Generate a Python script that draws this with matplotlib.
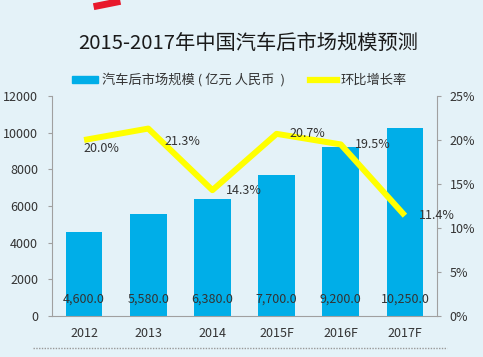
import matplotlib.pyplot as plt
from matplotlib.lines import Line2D
from matplotlib.patches import Patch

plt.rcParams['font.family'] = ['Noto Sans CJK SC', 'DejaVu Sans']

years = ["2012", "2013", "2014", "2015F", "2016F", "2017F"]
market_size = [4600.0, 5580.0, 6380.0, 7700.0, 9200.0, 10250.0]
growth = [20.0, 21.3, 14.3, 20.7, 19.5, 11.4]

bg = "#e4f2f8"
bar_color = "#00aee8"
line_color = "#ffff00"
axis_gray = "#a0a0a0"
text_color = "#333333"

# label offsets in pixels (dx, dy) from each line point
label_offsets = [(-1, -9), (16, -13), (14, 0), (13, 0), (14, 0), (14, 0)]

fig = plt.figure(figsize=(4.83, 3.57), dpi=100, facecolor=bg)
ax = fig.add_axes([52 / 483, 1 - 316 / 357, 385 / 483, 220 / 357])
ax.set_facecolor(bg)

x = list(range(len(years)))
ax.bar(x, market_size, width=0.57, color=bar_color, zorder=2)
ax.set_xlim(-0.5, len(years) - 0.5)
ax.set_ylim(0, 12000)
ax.set_yticks(range(0, 12001, 2000))
ax.set_xticks(x)
ax.set_xticklabels(years)

for xi, v in zip(x, market_size):
    ax.text(xi, 900, f"{v:,.1f}", ha="center", va="center", fontsize=9,
            color=text_color, zorder=4)

ax2 = ax.twinx()
ax2.set_ylim(0, 25)
ax2.set_yticks(range(0, 26, 5))
ax2.set_yticklabels([f"{t}%" for t in range(0, 26, 5)])
ax2.plot(x, growth, color=line_color, linewidth=4.3, solid_capstyle="butt", zorder=3)
for xi, g, (dx, dy) in zip(x, growth, label_offsets):
    ax2.annotate(f"{g:.1f}%", (xi, g), xytext=(dx, dy), textcoords="offset pixels",
                 ha="left", va="center", fontsize=9, color=text_color, zorder=4)

for a in (ax, ax2):
    for s in a.spines.values():
        s.set_visible(False)
    a.tick_params(colors=text_color, labelsize=9, length=3)
ax.spines["left"].set_visible(True)
ax.spines["left"].set_color(axis_gray)
ax.spines["bottom"].set_visible(True)
ax.spines["bottom"].set_color(axis_gray)
ax2.spines["right"].set_visible(True)
ax2.spines["right"].set_color(axis_gray)
ax.tick_params(axis="y", color=axis_gray, pad=7)
ax.tick_params(axis="x", length=0, pad=8)
ax2.tick_params(axis="y", color=axis_gray, pad=6)

fig.text(248 / 483, 1 - 43 / 357, "2015-2017年中国汽车后市场规模预测",
         ha="center", va="center", fontsize=14.6, color="#1a1a1a")

handles = [Patch(color=bar_color), Line2D([], [], color=line_color, linewidth=4.5)]
fig.legend(handles, ["汽车后市场规模 ( 亿元 人民币  )", "环比增长率"],
           loc="center left", bbox_to_anchor=(72 / 483, 1 - 80 / 357), ncol=2,
           frameon=False, fontsize=9.5, handlelength=2.0, handleheight=0.45,
           columnspacing=1.9, handletextpad=0.3, borderpad=0, borderaxespad=0,
           labelcolor=text_color)

# dotted rule along the bottom and the red mark at the top edge
fig.add_artist(Line2D([33 / 483, 447 / 483], [1 - 348 / 357] * 2, color="#999999",
                      linestyle=(0, (1, 1)), linewidth=1))
fig.add_artist(Line2D([97 / 483, 117 / 483], [1 - 6 / 357, 1 - 2 / 357],
                      color="#e8192c", linewidth=5))

fig.savefig("out.png", dpi=100, facecolor=bg)
